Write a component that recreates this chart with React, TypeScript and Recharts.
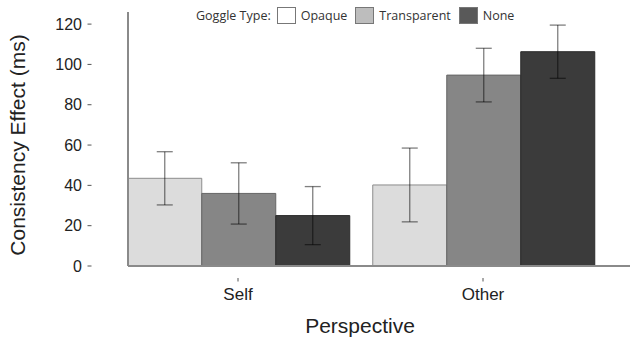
import { BarChart, Bar, XAxis, YAxis, ErrorBar, Legend } from 'recharts'

const perspectives = ['Self', 'Other']
const goggleTypes = ['Opaque', 'Transparent', 'None']
const opaqueMeans = [43.5, 40.2]
const opaqueErr = [13.2, 18.3]
const transparentMeans = [36.0, 94.7]
const transparentErr = [15.2, 13.3]
const noneMeans = [25.0, 106.3]
const noneErr = [14.4, 13.2]
const yTicks = [0, 20, 40, 60, 80, 100, 120]

const barFills = ['#dcdcdc', '#868686', '#3b3b3b']
const barStrokes = ['#8c8c8c', '#666666', '#2a2a2a']
const legendFills = ['#ffffff', '#bdbdbd', '#595959']

const data = perspectives.map((p, i) => ({
  perspective: p,
  opaque: opaqueMeans[i],
  opaqueErr: opaqueErr[i],
  transparent: transparentMeans[i],
  transparentErr: transparentErr[i],
  none: noneMeans[i],
  noneErr: noneErr[i],
}))

const axisFont = '"Liberation Sans", Arial, sans-serif'

function YTick(props: { x?: number; y?: number; payload?: { value: number } }) {
  const { x = 0, y = 0, payload } = props
  return (
    <g>
      <line x1={x - 4.5} x2={x - 0.5} y1={y} y2={y} stroke="#555" strokeWidth={1} />
      <text x={x - 10} y={y} dy={5.5} textAnchor="end" fontSize={16} fill="#222" fontFamily={axisFont}>
        {payload?.value}
      </text>
    </g>
  )
}

function XTick(props: { x?: number; y?: number; payload?: { value: string } }) {
  const { x = 0, y = 0, payload } = props
  return (
    <g>
      <line x1={x} x2={x} y1={y} y2={y + 3.5} stroke="#555" strokeWidth={1} />
      <text x={x} y={y + 22} textAnchor="middle" fontSize={17} fill="#222" fontFamily={axisFont}>
        {payload?.value}
      </text>
    </g>
  )
}

// legend swatches are lighter than the bars themselves
function GoggleLegend() {
  return (
    <div style={{ display: 'flex', alignItems: 'center', fontFamily: '"Open Sans", sans-serif', fontSize: 12.5, color: '#333', whiteSpace: 'nowrap' }}>
      <span style={{ marginRight: 6 }}>Goggle Type:</span>
      {goggleTypes.map((g, i) => (
        <span key={g} style={{ display: 'flex', alignItems: 'center', marginRight: 8 }}>
          <span style={{ width: 17, height: 15, background: legendFills[i], border: '1px solid #777', marginRight: 5 }} />
          {g}
        </span>
      ))}
    </div>
  )
}

export default function App() {
  return (
    <div style={{ width: 630, height: 341, background: '#fff' }}>
      <style>{'body{margin:0}'}</style>
      <BarChart
        width={630}
        height={341}
        data={data}
        margin={{ top: 12, right: 0, bottom: 15, left: 68 }}
        barCategoryGap="5%"
        barGap={0}
      >
        <XAxis
          dataKey="perspective"
          height={60}
          padding={{ left: -12.5, right: 24.5 }}
          axisLine={{ stroke: '#8a8a8a', strokeWidth: 2 }}
          tickLine={false}
          tickSize={12}
          tickMargin={0}
          tick={<XTick />}
          label={{
            content: () => (
              <text x={360} y={333} textAnchor="middle" fontSize={21} fill="#222" fontFamily={axisFont}>
                Perspective
              </text>
            ),
          }}
        />
        <YAxis
          width={60}
          domain={[0, 126]}
          ticks={yTicks}
          allowDataOverflow
          axisLine={{ stroke: '#8a8a8a', strokeWidth: 2 }}
          tickLine={false}
          tickSize={36}
          tickMargin={0}
          tick={<YTick />}
          label={{
            content: () => (
              <text x={25} y={145} transform="rotate(-90, 25, 145)" textAnchor="middle" fontSize={21} fill="#222" fontFamily={axisFont}>
                Consistency Effect (ms)
              </text>
            ),
          }}
        />
        <Legend
          layout="horizontal"
          verticalAlign="middle"
          align="center"
          wrapperStyle={{ top: 7, left: 196, width: 340 }}
          content={() => <GoggleLegend />}
        />
        {['opaque', 'transparent', 'none'].map((key, i) => (
          <Bar
            key={key}
            dataKey={key}
            name={goggleTypes[i]}
            fill={barFills[i]}
            stroke={barStrokes[i]}
            strokeWidth={1}
            isAnimationActive={false}
          >
            <ErrorBar
              dataKey={`${key}Err`}
              width={8}
              stroke="#000"
              strokeOpacity={0.5}
              strokeWidth={1.3}
              isAnimationActive={false}
            />
          </Bar>
        ))}
      </BarChart>
    </div>
  )
}
